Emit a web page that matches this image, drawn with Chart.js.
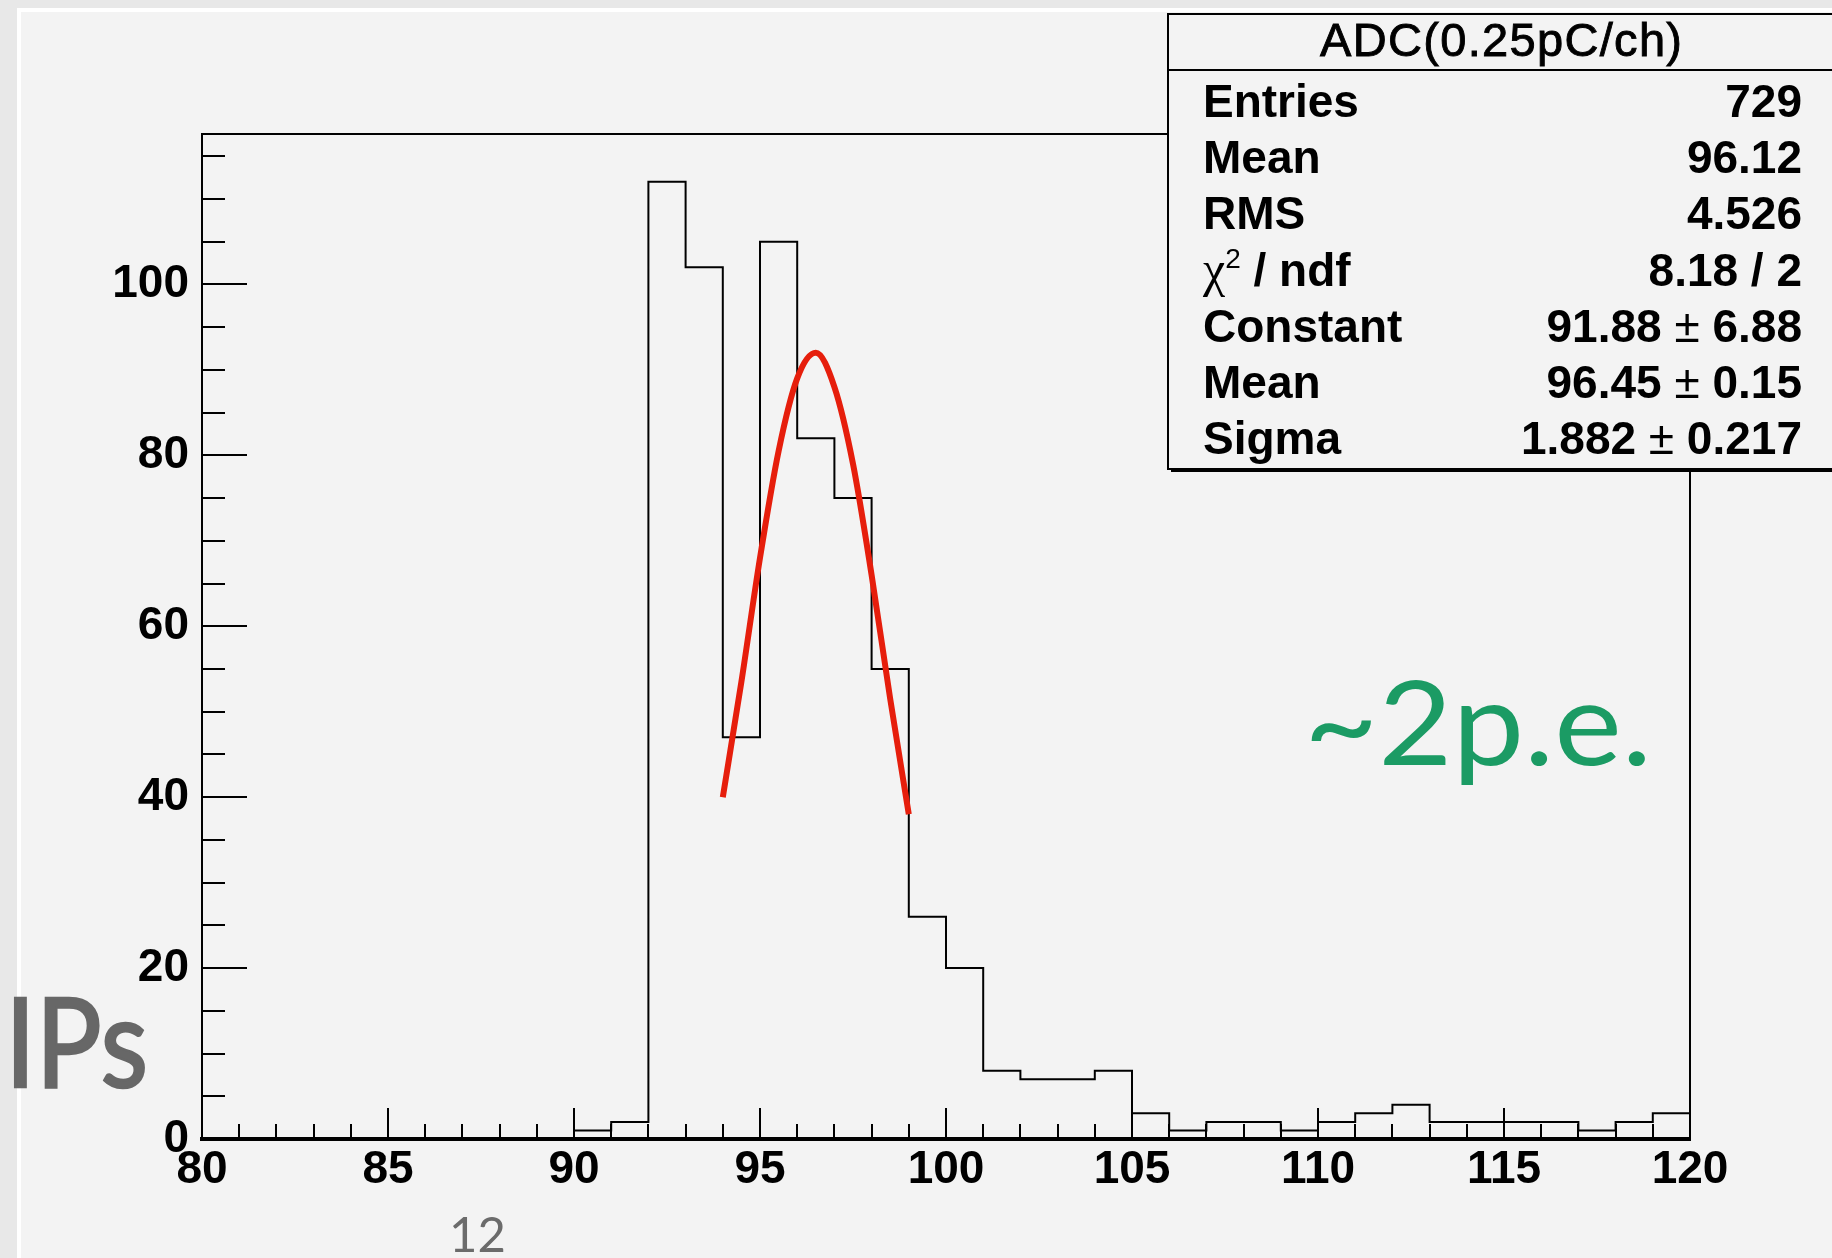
<!DOCTYPE html>
<html>
<head>
<meta charset="utf-8">
<title>ADC(0.25pC/ch)</title>
<script src="https://cdn.jsdelivr.net/npm/chart.js@4.4.1/dist/chart.umd.min.js"></script>
<style>
  html, body { margin: 0; padding: 0; }
  body { width: 1832px; height: 1258px; overflow: hidden; background: #e8e8e8; position: relative; }
  #slide { position: absolute; left: 17px; top: 8px; width: 1830px; height: 1260px; background: #f3f3f3;
           border-left: 4px solid #fff; border-top: 4px solid #fff; }
  #c { position: absolute; left: 0; top: 0; }
  #overlay { position: absolute; left: 0; top: 0; }
</style>
</head>
<body>
<div id="slide"></div>
<canvas id="c" width="1832" height="1258"></canvas>
<svg id="overlay" width="1832" height="1258" xmlns="http://www.w3.org/2000/svg">
  <g id="stats" font-family="'Liberation Sans', Arial, Helvetica, sans-serif" fill="#000"></g>
  <text x="5" y="1087" font-family="Lato, 'Open Sans', sans-serif" font-size="124" fill="#676767"
        stroke="#676767" stroke-width="2.5" textLength="143" lengthAdjust="spacingAndGlyphs">IPs</text>
  <text x="1304" y="765" font-family="Lato, 'Open Sans', sans-serif" font-size="116" fill="#1b9b64"
        textLength="348" lengthAdjust="spacingAndGlyphs">~2p.e.</text>
  <text x="449" y="1252" font-family="Lato, 'Open Sans', sans-serif" font-size="49" fill="#6b6b6b">12</text>
</svg>
<script>
// histogram: 1-unit bins, value = bin low edge
const binStarts = [80, 81, 82, 83, 84, 85, 86, 87, 88, 89,
                   90, 91, 92, 93, 94, 95, 96, 97, 98, 99,
                   100, 101, 102, 103, 104, 105, 106, 107, 108, 109,
                   110, 111, 112, 113, 114, 115, 116, 117, 118, 119];
const binCounts = [0, 0, 0, 0, 0, 0, 0, 0, 0, 0,
                   1, 2, 112, 102, 47, 105, 82, 75, 55, 26,
                   20, 8, 7, 7, 8, 3, 1, 2, 2, 1,
                   2, 3, 4, 2, 2, 2, 2, 1, 2, 3];
const binWidth = 1;

// red gaussian fit
const fitX = [94, 94.5, 95, 95.5, 96, 96.5, 97, 97.5, 98, 98.5, 99];
const fitY = [40, 53.5, 68, 80.5, 89, 92, 88, 79, 66, 51.5, 38];

const xTickLabels = [80, 85, 90, 95, 100, 105, 110, 115, 120];
const yTickLabels = [0, 20, 40, 60, 80, 100];

const statTitle = 'ADC(0.25pC/ch)';
const statNames = ['Entries', 'Mean', 'RMS', 'chi2', 'Constant', 'Mean', 'Sigma'];
const statValues = ['729', '96.12', '4.526', '8.18 / 2', '91.88 ± 6.88', '96.45 ± 0.15', '1.882 ± 0.217'];

const FONT = "'Liberation Sans', Arial, Helvetica, sans-serif";
const SVGNS = 'http://www.w3.org/2000/svg';

function buildStats() {
  const g = document.getElementById('stats');
  const el = (tag, attrs, text) => {
    const n = document.createElementNS(SVGNS, tag);
    for (const k in attrs) n.setAttribute(k, attrs[k]);
    if (text != null) n.textContent = text;
    return n;
  };
  g.appendChild(el('rect', { x: 1168, y: 14, width: 720, height: 455, fill: '#f3f3f3', stroke: '#000', 'stroke-width': 2 }));
  g.appendChild(el('line', { x1: 1171, y1: 470.5, x2: 1832, y2: 470.5, stroke: '#000', 'stroke-width': 3 }));
  g.appendChild(el('line', { x1: 1168, y1: 70, x2: 1832, y2: 70, stroke: '#000', 'stroke-width': 2 }));
  g.appendChild(el('text', { x: 1501, y: 56, 'text-anchor': 'middle', 'font-size': 47,
                             stroke: '#000', 'stroke-width': 0.9, textLength: 362 }, statTitle));

  statNames.forEach((name, i) => {
    const y = 117 + i * 56.2;
    const lab = el('text', { x: 1203, y, 'font-size': 46, 'font-weight': 'bold' });
    if (name === 'chi2') {
      lab.appendChild(el('tspan', { 'font-family': "'Liberation Serif', serif", 'font-weight': 'normal', 'font-size': 50 }, 'χ'));
      lab.appendChild(el('tspan', { dy: -18, 'font-size': 28, 'font-weight': 'normal' }, '2'));
      lab.appendChild(el('tspan', { dy: 18 }, ' / ndf'));
    } else {
      lab.textContent = name;
    }
    g.appendChild(lab);

    const val = el('text', { x: 1802, y, 'text-anchor': 'end', 'font-size': 46, 'font-weight': 'bold' });
    const parts = statValues[i].split('±');
    val.appendChild(el('tspan', {}, parts[0]));
    if (parts.length > 1) {
      val.appendChild(el('tspan', { 'font-weight': 'normal' }, '±'));
      val.appendChild(el('tspan', {}, parts[1]));
    }
    g.appendChild(val);
  });
}

// ROOT-style frame: top/right edges plus inward tick marks
const rootFrame = {
  id: 'rootFrame',
  beforeDatasetsDraw(chart) {
    const { ctx, chartArea: a, scales: { x, y } } = chart;
    ctx.save();
    ctx.strokeStyle = '#000';
    ctx.lineWidth = 2;
    ctx.beginPath();
    ctx.moveTo(a.left, a.top);
    ctx.lineTo(a.right, a.top);
    ctx.lineTo(a.right, a.bottom);
    y.ticks.forEach(t => {
      if (t.value % 5 !== 0) return;
      const py = Math.round(y.getPixelForValue(t.value));
      const len = yTickLabels.includes(t.value) ? 45 : 23;
      ctx.moveTo(a.left, py);
      ctx.lineTo(a.left + len, py);
    });
    x.ticks.forEach(t => {
      const px = Math.round(x.getPixelForValue(t.value));
      const len = xTickLabels.includes(t.value) ? 31 : 15;
      ctx.moveTo(px, a.bottom);
      ctx.lineTo(px, a.bottom - len);
    });
    ctx.stroke();
    ctx.restore();
  }
};

const histPoints = binStarts.map((x, i) => ({ x, y: binCounts[i] }));
histPoints.push({ x: binStarts[binStarts.length - 1] + binWidth, y: binCounts[binCounts.length - 1] });

const tickFont = { family: FONT, size: 46, weight: 'bold' };

new Chart(document.getElementById('c'), {
  type: 'line',
  data: {
    datasets: [{
      label: 'Gaussian fit',
      data: fitX.map((x, i) => ({ x, y: fitY[i] })),
      borderColor: '#e61e0c',
      borderWidth: 6,
      pointRadius: 0,
      cubicInterpolationMode: 'monotone',
      fill: false,
    }, {
      label: 'ADC',
      data: histPoints,
      stepped: 'before',
      borderColor: '#000',
      borderWidth: 2,
      pointRadius: 0,
      fill: false,
    }],
  },
  options: {
    responsive: false,
    animation: false,
    devicePixelRatio: 1,
    layout: { padding: { left: 0, top: 134, right: 142, bottom: 0 } },
    plugins: { legend: { display: false }, tooltip: { enabled: false }, title: { display: false } },
    scales: {
      x: {
        type: 'linear', min: 80, max: 120,
        grid: { display: false },
        border: { display: true, color: '#000', width: 4 },
        ticks: {
          stepSize: 1, autoSkip: false, maxRotation: 0, minRotation: 0, includeBounds: false,
          maxTicksLimit: 1000, color: '#000', font: tickFont, padding: -4,
          callback: v => xTickLabels.includes(v) ? String(v) : '',
        },
        afterFit: s => { s.height = 119; },
      },
      y: {
        type: 'linear', min: 0, max: 117.6,
        grid: { display: false },
        border: { display: true, color: '#000', width: 2 },
        ticks: {
          stepSize: 5, autoSkip: false, includeBounds: false, maxTicksLimit: 1000,
          color: '#000', font: tickFont, padding: 5,
          callback: v => yTickLabels.includes(v) ? String(v) : '',
        },
        afterFit: s => { s.width = 202; },
      },
    },
  },
  plugins: [rootFrame],
});

buildStats();
</script>
</body>
</html>
